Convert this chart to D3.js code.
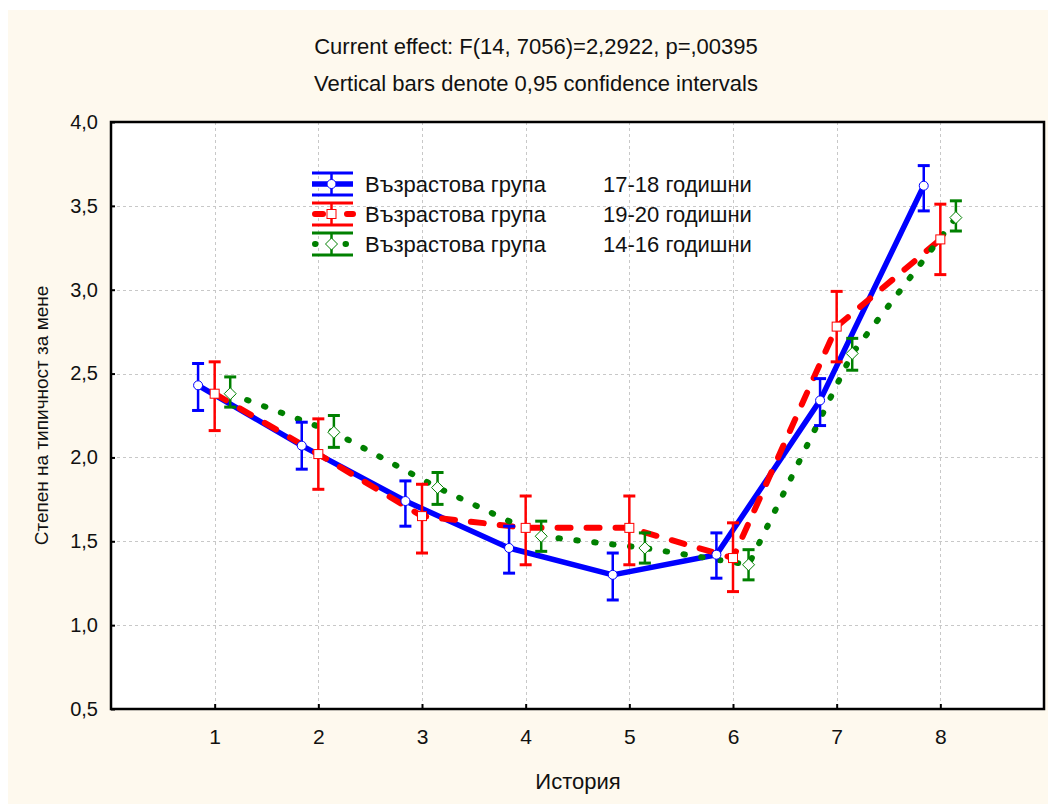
<!DOCTYPE html>
<html>
<head>
<meta charset="utf-8">
<script src="https://cdn.jsdelivr.net/npm/d3@7"></script>
<style>
  html, body { margin: 0; padding: 0; background: #ffffff; }
  svg { display: block; font-family: "Liberation Sans", Arial, sans-serif; }
</style>
</head>
<body>
<svg id="chart" width="1054" height="804"></svg>
<script>
// ---------------- data ----------------
const categories = [1, 2, 3, 4, 5, 6, 7, 8];
const yTicks = [0.5, 1.0, 1.5, 2.0, 2.5, 3.0, 3.5, 4.0];

const group1718Mean = [2.43, 2.07, 1.74, 1.46, 1.30, 1.42, 2.34, 3.62];
const group1718Lo   = [2.28, 1.93, 1.59, 1.31, 1.15, 1.28, 2.19, 3.47];
const group1718Hi   = [2.56, 2.21, 1.86, 1.59, 1.43, 1.55, 2.47, 3.74];

const group1920Mean = [2.38, 2.02, 1.65, 1.58, 1.58, 1.40, 2.78, 3.30];
const group1920Lo   = [2.16, 1.81, 1.43, 1.36, 1.36, 1.20, 2.57, 3.09];
const group1920Hi   = [2.57, 2.23, 1.84, 1.77, 1.77, 1.61, 2.99, 3.51];

const group1416Mean = [2.38, 2.15, 1.82, 1.53, 1.46, 1.36, 2.62, 3.43];
const group1416Lo   = [2.30, 2.06, 1.72, 1.44, 1.37, 1.27, 2.52, 3.35];
const group1416Hi   = [2.48, 2.25, 1.91, 1.62, 1.55, 1.45, 2.71, 3.53];

const seriesNames = ["Възрастова група", "Възрастова група", "Възрастова група"];
const seriesGroups = ["17-18 годишни", "19-20 годишни", "14-16 годишни"];

const titleLines = ["Current effect: F(14, 7056)=2,2922, p=,00395",
                    "Vertical bars denote 0,95 confidence intervals"];
const xTitle = "История";
const yTitle = "Степен на типичност за мене";

// ---------------- styles ----------------
const series = [
  { mean: group1718Mean, lo: group1718Lo, hi: group1718Hi, color: "#0000ff", offset: -0.16,
    width: 5.5, dash: null, cap: "butt", marker: "circle", legDash: null },
  { mean: group1920Mean, lo: group1920Lo, hi: group1920Hi, color: "#ff0000", offset: 0,
    width: 6, dash: "13,16", cap: "round", marker: "square", legDash: "8,24" },
  { mean: group1416Mean, lo: group1416Lo, hi: group1416Hi, color: "#008000", offset: 0.15,
    width: 6, dash: "1.5,16.5", cap: "round", marker: "diamond", legDash: "0.5,30" }
];

const svg = d3.select("#chart");
const plot = { left: 111, right: 1044, top: 122, bottom: 709 };

svg.append("rect").attr("x", 8).attr("y", 10).attr("width", 1040).attr("height", 794)
  .attr("fill", "#fef9ee");
svg.append("rect").attr("x", plot.left).attr("y", plot.top)
  .attr("width", plot.right - plot.left).attr("height", plot.bottom - plot.top)
  .attr("fill", "#ffffff");

const x = d3.scaleLinear().domain([0, 9]).range([plot.left, plot.right]);
const y = d3.scaleLinear().domain([0.5, 4.0]).range([plot.bottom, plot.top]);

// grid
const grid = svg.append("g").attr("stroke", "#c8c8c8").attr("stroke-width", 1)
  .attr("stroke-dasharray", "3,3");
grid.selectAll("line.gx").data(categories).enter().append("line")
  .attr("x1", d => Math.round(x(d)) + 0.5).attr("x2", d => Math.round(x(d)) + 0.5)
  .attr("y1", plot.top).attr("y2", plot.bottom);
grid.selectAll("line.gy").data(yTicks.filter(t => t > 0.5 && t < 4.0)).enter().append("line")
  .attr("y1", d => Math.round(y(d)) + 0.5).attr("y2", d => Math.round(y(d)) + 0.5)
  .attr("x1", plot.left).attr("x2", plot.right);

// axes (ticks inside)
const fmt = d => d.toFixed(1).replace(".", ",");
const yAxis = d3.axisLeft(y).tickValues(yTicks).tickFormat(fmt).tickSize(-4).tickPadding(13);
const gy = svg.append("g").attr("transform", `translate(${plot.left},0)`).call(yAxis);
gy.select(".domain").remove();
gy.selectAll(".tick line").attr("stroke", "#000").attr("stroke-width", 2);
gy.selectAll(".tick text").attr("font-size", 20).attr("fill", "#111")
  .attr("font-family", "Liberation Sans, Arial, sans-serif");

const xAxis = d3.axisBottom(x).tickValues(categories).tickFormat(d3.format("d"))
  .tickSize(-5).tickPadding(20);
const gx = svg.append("g").attr("transform", `translate(0,${plot.bottom})`).call(xAxis);
gx.select(".domain").remove();
gx.selectAll(".tick line").attr("stroke", "#000").attr("stroke-width", 2);
gx.selectAll(".tick text").attr("font-size", 21).attr("fill", "#111")
  .attr("font-family", "Liberation Sans, Arial, sans-serif");

// series
const capW = 6;
series.forEach(s => {
  const pts = categories.map((c, i) => ({ cx: x(c + s.offset), m: s.mean[i], lo: s.lo[i], hi: s.hi[i] }));
  const line = d3.line().x(d => d.cx).y(d => y(d.m));
  svg.append("path").datum(pts).attr("d", line).attr("fill", "none")
    .attr("stroke", s.color).attr("stroke-width", s.width)
    .attr("stroke-linecap", s.cap).attr("stroke-linejoin", "round")
    .attr("stroke-dasharray", s.dash);
});
series.forEach(s => {
  const pts = categories.map((c, i) => ({ cx: x(c + s.offset), m: s.mean[i], lo: s.lo[i], hi: s.hi[i] }));
  const g = svg.append("g").attr("stroke", s.color);
  g.selectAll("line.v").data(pts).enter().append("line")
    .attr("x1", d => d.cx).attr("x2", d => d.cx)
    .attr("y1", d => y(d.lo)).attr("y2", d => y(d.hi)).attr("stroke-width", 2.5);
  g.selectAll("line.t").data(pts).enter().append("line")
    .attr("x1", d => d.cx - capW).attr("x2", d => d.cx + capW)
    .attr("y1", d => y(d.hi)).attr("y2", d => y(d.hi)).attr("stroke-width", 3);
  g.selectAll("line.b").data(pts).enter().append("line")
    .attr("x1", d => d.cx - capW).attr("x2", d => d.cx + capW)
    .attr("y1", d => y(d.lo)).attr("y2", d => y(d.lo)).attr("stroke-width", 3);
  drawMarkers(g, pts.map(d => [d.cx, y(d.m)]), s);
});

function drawMarkers(g, xy, s) {
  if (s.marker === "circle") {
    g.selectAll("circle.m").data(xy).enter().append("circle")
      .attr("cx", d => d[0]).attr("cy", d => d[1]).attr("r", 4.5)
      .attr("fill", "#fff").attr("stroke", s.color).attr("stroke-width", 1);
  } else if (s.marker === "square") {
    g.selectAll("rect.m").data(xy).enter().append("rect")
      .attr("x", d => d[0] - 4.5).attr("y", d => d[1] - 4.5).attr("width", 9).attr("height", 9)
      .attr("fill", "#fff").attr("stroke", s.color).attr("stroke-width", 1);
  } else {
    g.selectAll("path.m").data(xy).enter().append("path")
      .attr("d", d => `M${d[0]},${d[1] - 6}L${d[0] + 6},${d[1]}L${d[0]},${d[1] + 6}L${d[0] - 6},${d[1]}Z`)
      .attr("fill", "#fff").attr("stroke", s.color).attr("stroke-width", 1);
  }
}

// frame
svg.append("rect").attr("x", plot.left).attr("y", plot.top)
  .attr("width", plot.right - plot.left).attr("height", plot.bottom - plot.top)
  .attr("fill", "none").attr("stroke", "#000").attr("stroke-width", 2.5);

// legend
const legX = 312, legW = 41, legY0 = 184, legStep = 30;
series.forEach((s, i) => {
  const cy = legY0 + i * legStep;
  const g = svg.append("g");
  g.append("line").attr("x1", s.legDash ? legX + 3 : legX).attr("x2", legX + legW)
    .attr("y1", cy).attr("y2", cy).attr("stroke", s.color).attr("stroke-width", s.width)
    .attr("stroke-linecap", s.cap).attr("stroke-dasharray", s.legDash);
  const mx = legX + legW / 2 - 1;
  g.append("line").attr("x1", mx).attr("x2", mx).attr("y1", cy - 11).attr("y2", cy + 11)
    .attr("stroke", s.color).attr("stroke-width", 2.5);
  [cy - 11, cy + 11].forEach(yy => g.append("line").attr("x1", legX).attr("x2", legX + legW)
    .attr("y1", yy).attr("y2", yy).attr("stroke", s.color).attr("stroke-width", 3));
  drawMarkers(g, [[mx, cy]], s);
  g.append("text").attr("x", 365).attr("y", cy + 8).attr("font-size", 22).attr("fill", "#111")
    .text(seriesNames[i]);
  g.append("text").attr("x", 603).attr("y", cy + 8).attr("font-size", 22).attr("fill", "#111")
    .text(seriesGroups[i]);
});

// titles
svg.selectAll("text.title").data(titleLines).enter().append("text")
  .attr("x", 536).attr("y", (d, i) => 54 + i * 37).attr("text-anchor", "middle")
  .attr("font-size", 22).attr("fill", "#111").text(d => d);
svg.append("text").attr("x", 578).attr("y", 789)
  .attr("text-anchor", "middle").attr("font-size", 22).attr("fill", "#111").text(xTitle);
svg.append("text").attr("transform", `translate(48,${(plot.top + plot.bottom) / 2}) rotate(-90)`)
  .attr("text-anchor", "middle").attr("font-size", 19).attr("fill", "#111").text(yTitle);
</script>
</body>
</html>
